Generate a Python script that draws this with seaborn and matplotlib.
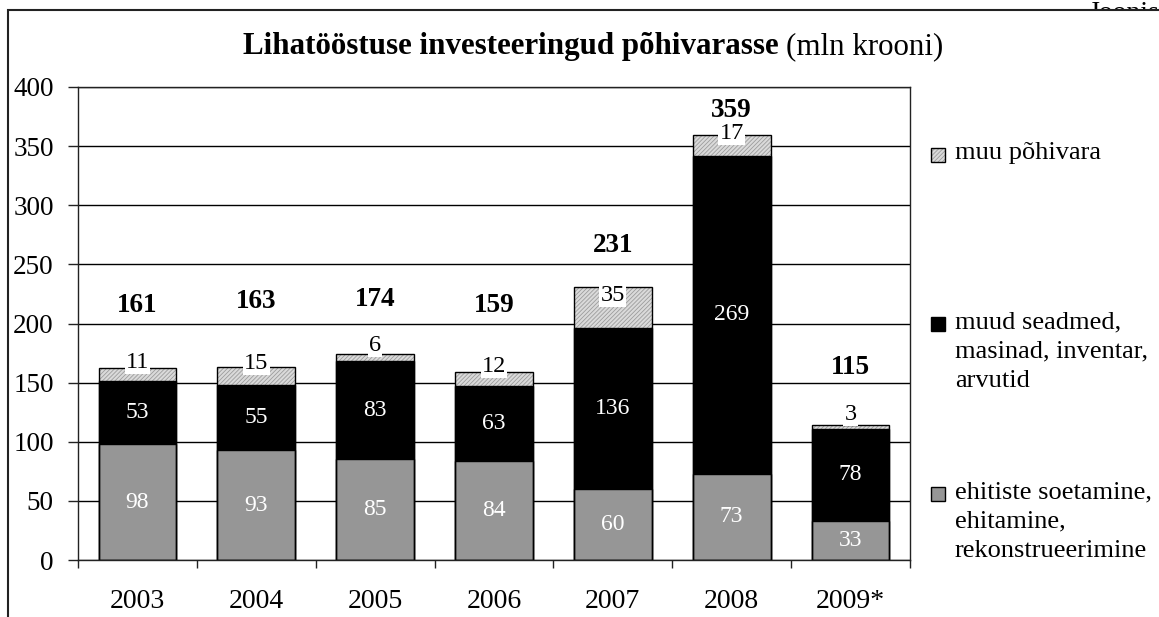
import numpy as np
import pandas as pd
import seaborn as sns
import matplotlib.pyplot as plt
from matplotlib.patches import Rectangle

years = ['2003', '2004', '2005', '2006', '2007', '2008', '2009*']
ehitised = [98, 93, 85, 84, 60, 73, 33]
seadmed = [53, 55, 83, 63, 136, 269, 78]
muu = [11, 15, 6, 12, 35, 17, 3]
totals = [161, 163, 174, 159, 231, 359, 115]
total_label_offset = [54, 56, 46, 56, 35, 21, 48]

legend_labels = ['muu põhivara',
                 'muud seadmed,\nmasinad, inventar,\narvutid',
                 'ehitiste soetamine,\nehitamine,\nrekonstrueerimine']

sns.set_style('white')
plt.rcParams['font.family'] = ['Liberation Serif', 'DejaVu Serif']
plt.rcParams['hatch.linewidth'] = 0.6
plt.rcParams['text.color'] = 'black'
plt.rcParams['xtick.color'] = 'black'
plt.rcParams['ytick.color'] = 'black'
plt.rcParams['axes.labelcolor'] = 'black'

df = pd.DataFrame({'year': years, 'ehit': ehitised, 'sead': seadmed, 'muu': muu})
df['c2'] = df['ehit'] + df['sead']
df['c3'] = df['c2'] + df['muu']

W, H = 1159, 617
fig = plt.figure(figsize=(W / 100, H / 100), dpi=100)
ax = fig.add_axes([78 / W, 1 - 560 / H, (910 - 78) / W, (560 - 87) / H])
ax.set_zorder(2)

GRAY = '#969696'
HFACE = '#dadada'
HCOL = '#9c9c9c'
HATCH = '////////'
bw = 0.655
sns.barplot(data=df, x='year', y='c3', color=HFACE, saturation=1, width=bw,
            edgecolor=HCOL, linewidth=0, hatch=HATCH, errorbar=None, ax=ax)
sns.barplot(data=df, x='year', y='c2', color='black', saturation=1, width=bw,
            edgecolor='black', linewidth=1, errorbar=None, ax=ax)
sns.barplot(data=df, x='year', y='ehit', color=GRAY, saturation=1, width=bw,
            edgecolor='black', linewidth=1, errorbar=None, ax=ax)
sns.barplot(data=df, x='year', y='c3', color='black', fill=False, width=bw,
            linewidth=1, errorbar=None, ax=ax)

ax.set_ylim(0, 400)
ax.set_xlim(-0.5, len(years) - 0.5)
ax.set_yticks(np.arange(0, 401, 50))
ax.set_axisbelow(True)
ax.grid(axis='y', color='black', linewidth=1)
ax.grid(axis='x', visible=False)
for s in ax.spines.values():
    s.set_visible(True)
    s.set_color('#222222')
    s.set_linewidth(1)
ax.set_xlabel('')
ax.set_ylabel('')
ax.set_xticks(np.arange(-0.5, len(years), 1))
ax.set_xticklabels([])
ax.set_xticks(np.arange(len(years)), minor=True)
ax.set_xticklabels(years, minor=True)
ax.tick_params(axis='x', which='major', direction='out', length=5.5, width=1, color='#222222', bottom=True)
ax.tick_params(axis='x', which='minor', length=0, pad=21, labelsize=20, labelcolor='black')
ax.tick_params(axis='y', direction='out', length=7, width=1, color='#222222', pad=10.5,
               labelsize=19.5, labelcolor='black', left=True)

for i in range(len(years)):
    e, s, m = ehitised[i], seadmed[i], muu[i]
    ax.text(i, e / 2, str(e), ha='center', va='center', color='white', fontsize=17)
    ax.text(i, e + s / 2, str(s), ha='center', va='center', color='white', fontsize=17)
    ax.annotate(str(m), (i, e + s + m / 2), xytext=(0, 9), textcoords='offset points',
                ha='center', va='center', color='black', fontsize=17.5,
                bbox=dict(boxstyle='square,pad=0.05', fc='white', ec='none'))
    ax.text(i, totals[i] + total_label_offset[i], str(totals[i]), ha='center', va='center',
            fontsize=19.5, fontweight='bold', color='black')

# outer frame and clipped caption
fig.text(1088 / W, 1 - 20 / H, 'Joonis', fontsize=20, ha='left', va='baseline', zorder=0.5)
fig.patches.append(Rectangle((8 / W, -0.1), 1.2, 1 - 10 / H + 0.1, transform=fig.transFigure,
                             facecolor='white', edgecolor='#222222', linewidth=1.5, zorder=1))

# title (bold part + normal part)
t1 = fig.text(243 / W, 1 - 54 / H, 'Lihatööstuse investeeringud põhivarasse', fontsize=22.3,
              fontweight='bold', ha='left', va='baseline', zorder=3)
fig.canvas.draw()
r = fig.canvas.get_renderer()
bb = t1.get_window_extent(r)
fig.text((bb.x1 + 7) / W, 1 - 54 / H, '(mln krooni)', fontsize=22.3, ha='left', va='baseline', zorder=3)

# legend
leg_colors = [HFACE, 'black', GRAY]
leg_hatch = [HATCH, None, None]
leg_top = [148, 317, 487]
for lab, c, h, t in zip(legend_labels, leg_colors, leg_hatch, leg_top):
    fig.patches.append(Rectangle((931 / W, 1 - (t + 14) / H), 14 / W, 14 / H, transform=fig.transFigure,
                                 facecolor=c, edgecolor=HCOL if h else 'black', hatch=h,
                                 linewidth=0 if h else 1, zorder=3))
    if h:
        fig.patches.append(Rectangle((931 / W, 1 - (t + 14) / H), 14 / W, 14 / H, transform=fig.transFigure,
                                     facecolor='none', edgecolor='black', linewidth=1, zorder=3))
    fig.text(955 / W, 1 - (t - 6) / H, lab, fontsize=19, ha='left', va='top', linespacing=1.45, zorder=3)

fig.savefig('out.png', dpi=100)
